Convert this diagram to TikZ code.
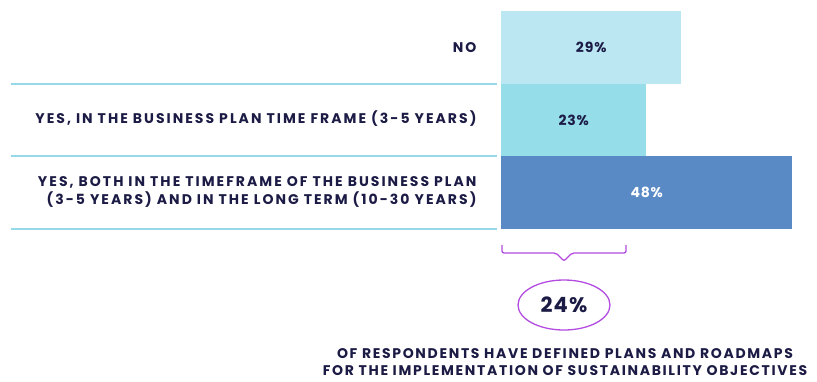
\documentclass[tikz,border=0pt]{standalone}
\usepackage{fontspec}
\setmainfont{Poppins}[LetterSpace=14.5]
\newfontfamily\digitfont{Poppins}[LetterSpace=6]
\newfontfamily\captionfont{Poppins}[LetterSpace=12]
\usepackage{tikz}
\usetikzlibrary{positioning, shapes.geometric}

\definecolor{navy}{HTML}{1B1B45}
\definecolor{barlight}{HTML}{BAE7F2}
\definecolor{barmid}{HTML}{96DDEA}
\definecolor{bardark}{HTML}{5A8AC6}
\definecolor{rule}{HTML}{96D8E8}
\definecolor{violet}{HTML}{B44BE1}

\begin{document}
\begin{tikzpicture}[x=1pt, y=-1pt,
barnode/.style={rectangle, anchor=north west, inner sep=0pt, minimum height=72.5pt, font=\digitfont\bfseries\fontsize{14}{15}\selectfont},
labelnode/.style={anchor=east, align=right, text=navy, font=\bfseries\fontsize{14}{18}\selectfont},
rulenode/.style={draw=rule, line width=2pt},
]
\useasboundingbox (0,0) rectangle (817,381);
%Bars
\node[barnode, fill=barlight, text=navy, minimum width=180pt]  (BarNo)   at (501,11)  {29\%};
\node[barnode, fill=barmid,   text=navy, minimum width=145pt]  (BarPlan) at (501,83.5)  {23\%};
\node[barnode, fill=bardark,  text=white, minimum width=291pt] (BarBoth) at (501,156) {48\%};

%Labels
\node[labelnode] (LabNo)   at (480,48)  {NO};
\node[labelnode] (LabPlan) at (480,119) {YES, IN THE BUSINESS PLAN TIME FRAME (3-5 YEARS)};
\node[labelnode] (LabBoth) at (480,192) {YES, BOTH IN THE TIMEFRAME OF THE BUSINESS PLAN\\(3-5 YEARS) AND IN THE LONG TERM (10-30 YEARS)};

%Rules
\draw[rulenode] (11,84) -- (497,84);
\draw[rulenode] (11,156) -- (497,156);
\draw[rulenode] (11,229) -- (497,229);

%Brace
\draw[violet, line width=1.3pt, rounded corners=2pt] (502,245) -- (502,253) -- (556,253) -- (564,261) -- (572,253) -- (626,253) -- (626,245);

%Summary
\node[ellipse, draw=violet, line width=1.3pt, minimum width=92pt, minimum height=50pt, inner sep=0pt, text=navy, font=\digitfont\bfseries\fontsize{21}{23}\selectfont] (Share) at (564,305) {24\%};
\node[anchor=north, align=center, text=navy, font=\captionfont\bfseries\fontsize{14}{17}\selectfont] (Caption) at (565,345) {OF RESPONDENTS HAVE DEFINED PLANS AND ROADMAPS\\FOR THE IMPLEMENTATION OF SUSTAINABILITY OBJECTIVES};
\end{tikzpicture}
\end{document}
